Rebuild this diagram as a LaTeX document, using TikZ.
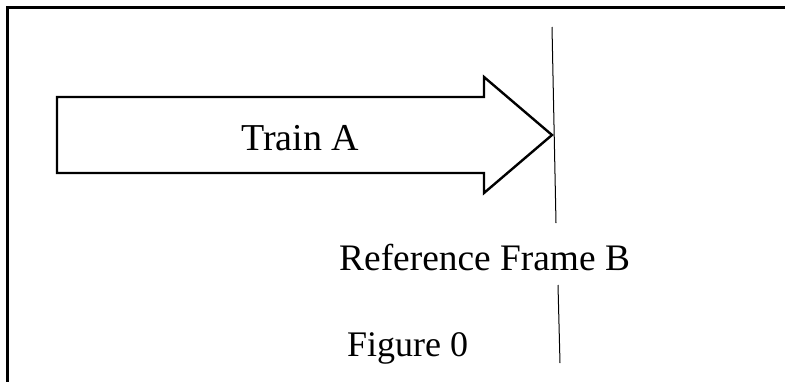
\documentclass[tikz,border=0pt]{standalone}
\usepackage{fontspec}
\setmainfont{Liberation Serif}
\begin{document}
\begin{tikzpicture}[x=1pt,y=-1pt,
  frame/.style={line width=3pt},
  arrowshape/.style={line width=2.4pt, line join=miter},
  refline/.style={line width=1pt},
  lbl/.style={inner sep=0pt, anchor=base west}]
\useasboundingbox (0,0) rectangle (785,381);
\clip (0,0) rectangle (785,381);
\draw[frame] (7.5,400) -- (7.5,7.5) -- (800,7.5);
\draw[arrowshape] (57,97) -- (484,97) -- (484,77) -- (552,135) -- (484,193) -- (484,173) -- (57,173) -- cycle;
\node[lbl, font=\fontsize{38}{44}\selectfont] (train) at (241,150.5) {Train A};
\coordinate (l1a) at (552,27);
\coordinate (l1b) at (556,223);
\coordinate (l2a) at (558,285);
\coordinate (l2b) at (560,363);
\draw[refline] (l1a) -- (l1b);
\draw[refline] (l2a) -- (l2b);
\node[lbl, font=\fontsize{37.4}{44}\selectfont] (frame) at (339,270) {Reference Frame B};
\node[lbl, font=\fontsize{36}{43}\selectfont] (fig) at (347,356) {Figure 0};
\end{tikzpicture}
\end{document}
